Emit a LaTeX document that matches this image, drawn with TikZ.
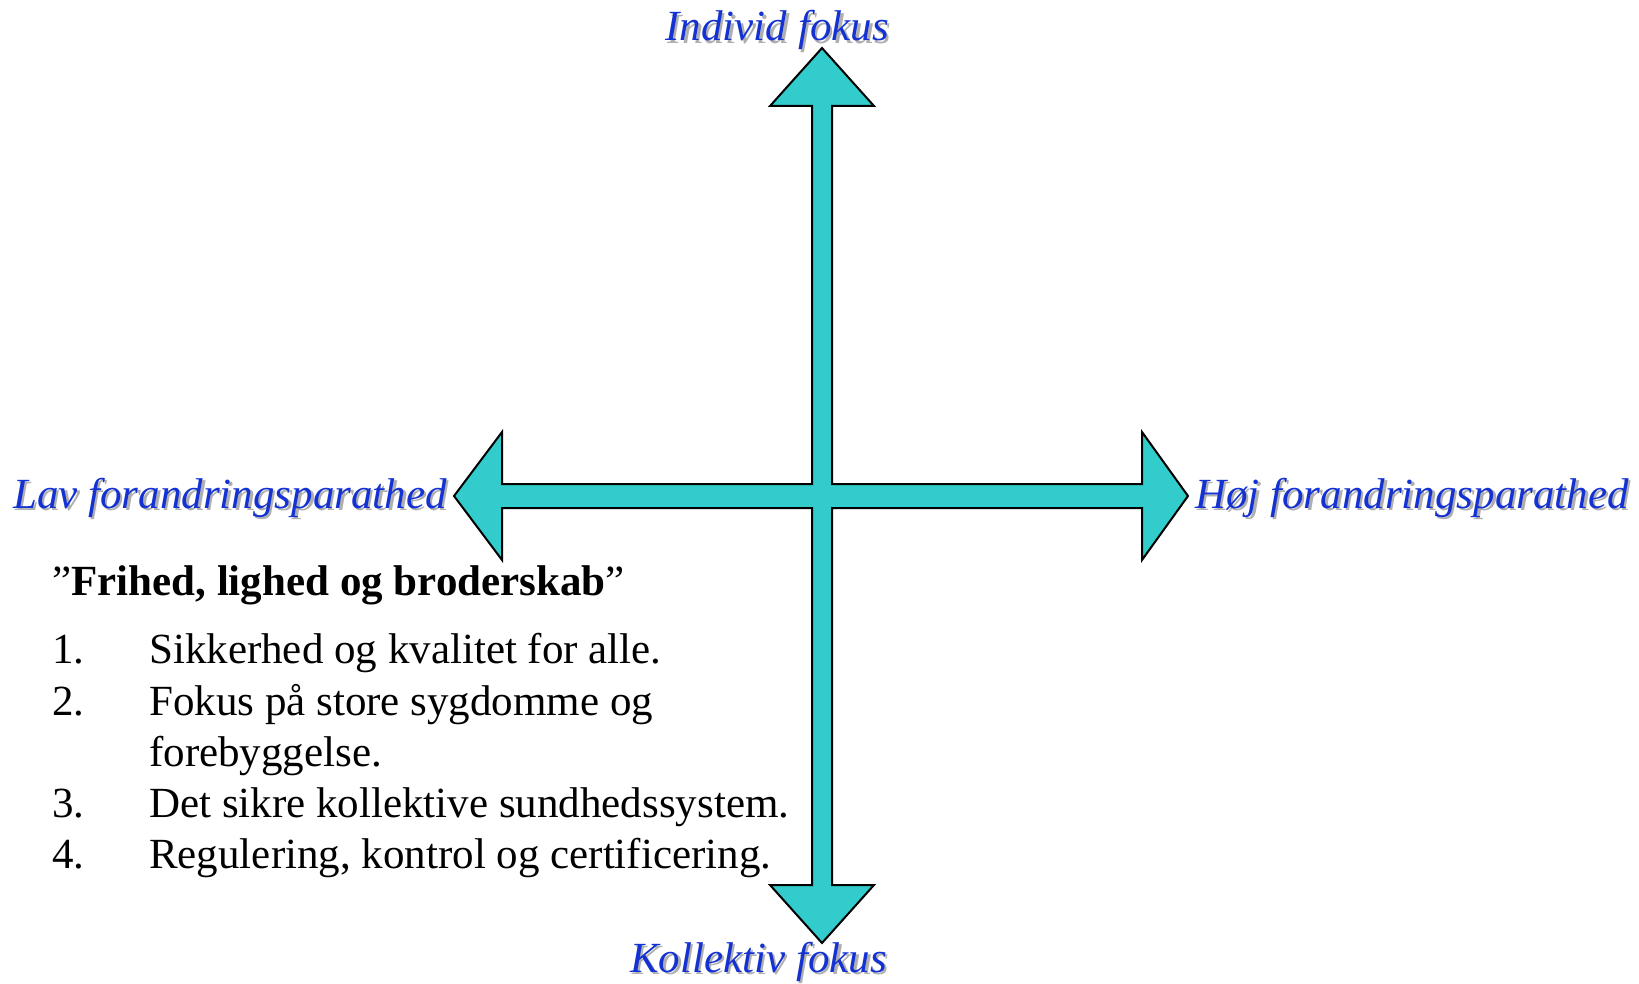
\documentclass[tikz,border=0pt]{standalone}
\usepackage{fontspec}
\setmainfont{Liberation Serif}
\definecolor{arrowfill}{RGB}{51,204,204}
\definecolor{labelblue}{RGB}{20,50,210}
\definecolor{shadowgray}{RGB}{175,175,175}
\begin{document}
\begin{tikzpicture}[x=1pt,y=-1pt,
  axislabel/.style={inner sep=0pt,font=\fontsize{43}{51}\selectfont\itshape,text=labelblue},
  axisshadow/.style={inner sep=0pt,font=\fontsize{43}{51}\selectfont\itshape,text=shadowgray},
  listtext/.style={inner sep=0pt,font=\fontsize{43}{51}\selectfont,anchor=base west},
  crossarrow/.style={fill=arrowfill,draw=black,line width=2pt,line join=miter}]
\useasboundingbox (0,0) rectangle (1639,984);
% cross of four arrows
\coordinate (topTip) at (822,48);
\coordinate (bottomTip) at (822,943);
\coordinate (leftTip) at (454,496);
\coordinate (rightTip) at (1188,496);
\draw[crossarrow] (topTip) -- (874,106) -- (832,106) -- (832,484) -- (1142,484)
  -- (1142,432) -- (rightTip) -- (1142,560) -- (1142,508) -- (832,508)
  -- (832,885) -- (874,885) -- (bottomTip) -- (770,885) -- (812,885)
  -- (812,508) -- (502,508) -- (502,560) -- (leftTip) -- (502,432)
  -- (502,484) -- (812,484) -- (812,106) -- (770,106) -- cycle;
% axis labels with shadows
\node[axisshadow,anchor=base east] (indS) at (891.5,43.5) {Individ fokus};
\node[axislabel,anchor=base east] (ind) at (889,41) {Individ fokus};
\node[axisshadow,anchor=base east] (kolS) at (889.5,974) {Kollektiv fokus};
\node[axislabel,anchor=base east] (kol) at (887,972) {Kollektiv fokus};
\node[axisshadow,anchor=base west] (lavS) at (15.5,510.5) {Lav forandringsparathed};
\node[axislabel,anchor=base west] (lav) at (13,508) {Lav forandringsparathed};
\node[axisshadow,anchor=base west] (hojS) at (1197.5,510.5) {Høj forandringsparathed};
\node[axislabel,anchor=base west] (hoj) at (1195,508) {Høj forandringsparathed};
% list
\node[listtext] (title) at (52,595) {”\textbf{Frihed, lighed og broderskab}”};
\node[listtext] (n1) at (52,663) {1.};
\node[listtext] (t1) at (149,663) {Sikkerhed og kvalitet for alle.};
\node[listtext] (n2) at (52,715) {2.};
\node[listtext] (t2) at (149,715) {Fokus på store sygdomme og};
\node[listtext] (t2b) at (149,766) {forebyggelse.};
\node[listtext] (n3) at (52,817) {3.};
\node[listtext] (t3) at (149,817) {Det sikre kollektive sundhedssystem.};
\node[listtext] (n4) at (52,868) {4.};
\node[listtext] (t4) at (149,868) {Regulering, kontrol og certificering.};
\end{tikzpicture}
\end{document}
